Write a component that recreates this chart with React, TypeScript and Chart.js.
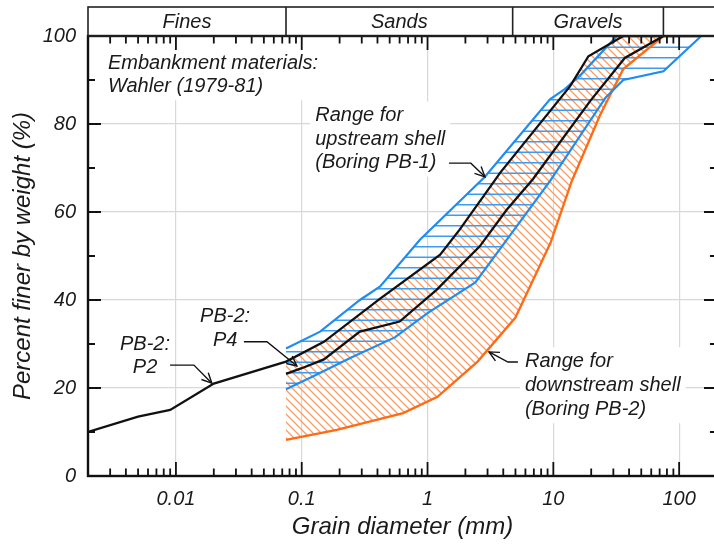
import React, { useEffect, useRef } from 'react';
import { Chart, registerables } from 'chart.js';

Chart.register(...registerables);

const FONT = '"Liberation Sans", Arial, Helvetica, sans-serif';

// Grain size (mm) and percent finer by weight (%)
const p2Size = [0.002, 0.005, 0.009, 0.02, 0.075, 0.15, 0.42, 1.26, 1.8, 3.8, 13.6, 19, 36];
const p2Finer = [10, 13.5, 15, 21, 26, 30.5, 40.3, 50.3, 56, 69, 88.6, 95.4, 100];

const p4Size = [0.075, 0.1, 0.15, 0.29, 0.6, 1.18, 2.6, 4.26, 6.9, 19.6, 37, 75];
const p4Finer = [23.2, 24.5, 26.5, 32.8, 35.1, 42.3, 52.2, 60.5, 67.5, 85.2, 95, 100];

// Upstream shell (Boring PB-1) range
const upFineSize = [0.075, 0.14, 0.29, 0.42, 0.87, 2.86, 9.4, 12.4, 16.3, 32];
const upFineFiner = [29, 32.8, 40, 43.1, 53.7, 68, 85.6, 88, 91, 100];
const upBoundSize = [0.075, 0.14, 0.29, 0.42, 0.87, 2.86, 9.4, 12.4, 16.3, 32, 150];
const upBoundFiner = [29, 32.8, 40, 43.1, 53.7, 68, 85.6, 88, 91, 100, 100];
const upCoarseSize = [0.075, 0.12, 0.25, 0.55, 1.0, 2.4, 9.4, 26, 36, 75, 150];
const upCoarseFiner = [19.7, 22.5, 27, 31.5, 37, 44, 67, 86, 90, 92, 100];

// Downstream shell (Boring PB-2) range
const downCoarseSize = [0.075, 0.19, 0.64, 1.2, 2.5, 5, 9.5, 14, 23.5, 36, 75];
const downCoarseFiner = [8.2, 10.5, 14.3, 18, 26, 36, 53, 67, 82, 92.5, 100];
const downBoundSize = [0.075, 0.15, 0.42, 1.26, 1.8, 3.8, 13.6, 19, 36, 75];
const downBoundFiner = [26, 30.5, 40.3, 50.3, 56, 69, 88.6, 95.4, 100, 100];

// Axes
const xMin = 0.002;
const xMax = 200;
const xDecades = [0.01, 0.1, 1, 10, 100];
const yTicks = [0, 20, 40, 60, 80, 100];

// Soil class header
const classNames = ['Fines', 'Sands', 'Gravels'];
const classBounds = [0.075, 4.75, 75];

// Annotations (anchor in data units: mm, %)
const notes = [
  { lines: ['Embankment materials:', 'Wahler (1979-81)'], x: 0.00288, y: 93.8, align: 'left', lh: 23 },
  { lines: ['Range for', 'upstream shell', '(Boring PB-1)'], x: 0.128, y: 81.9, align: 'left', lh: 23.5 },
  { lines: ['PB-2:', 'P2'], x: 0.00568, y: 29.8, align: 'center', lh: 23 },
  { lines: ['PB-2:', 'P4'], x: 0.0246, y: 36.2, align: 'center', lh: 24 },
  { lines: ['Range for', 'downstream shell', '(Boring PB-2)'], x: 5.95, y: 26.1, align: 'left', lh: 24 },
];
const arrows = [
  [[1.48, 71.1], [2.21, 71.1], [2.86, 68.0]],
  [[0.00898, 25.2], [0.0139, 25.2], [0.0193, 21.1]],
  [[0.0347, 30.5], [0.0529, 30.5], [0.0916, 25.0]],
  [[5.23, 25.9], [4.36, 25.9], [3.08, 28.2]],
];

const mk = (size: number[], finer: number[]) => size.map((x, i) => ({ x, y: finer[i] }));
const isDecade = (v: number) => Math.abs(Math.log10(v) - Math.round(Math.log10(v))) < 1e-6;

function noteRect(chart: any, n: any) {
  const { ctx } = chart;
  const px = chart.scales.x.getPixelForValue(n.x);
  const py = chart.scales.y.getPixelForValue(n.y);
  const w = Math.max(...n.lines.map((l: string) => ctx.measureText(l).width));
  const left = n.align === 'left' ? px : px - w / 2;
  return { px, py, x: left - 5, y: py - 14, w: w + 10, h: (n.lines.length - 1) * n.lh + 28 };
}

const overlay = {
  id: 'overlay',
  beforeDatasetsDraw(chart: any) {
    const { ctx } = chart;
    ctx.save();
    ctx.font = `italic 20px ${FONT}`;
    ctx.fillStyle = '#ffffff';
    for (const n of notes) {
      const r = noteRect(chart, n);
      ctx.fillRect(r.x, r.y, r.w, r.h);
    }
    ctx.restore();
  },
  afterDatasetsDraw(chart: any) {
    const { ctx, chartArea } = chart;
    const { left, right, top, bottom } = chartArea;
    const xs = chart.scales.x;
    const ys = chart.scales.y;
    ctx.save();
    // inward ticks
    ctx.strokeStyle = '#111';
    ctx.lineWidth = 1.8;
    ctx.beginPath();
    for (let e = -3; e <= 2; e++) {
      for (let m = 1; m <= 9; m++) {
        const v = m * Math.pow(10, e);
        if (v < xMin * 0.999 || v > xMax * 1.001) continue;
        const px = xs.getPixelForValue(v);
        const len = m === 1 ? 14 : 7.5;
        ctx.moveTo(px, bottom); ctx.lineTo(px, bottom - len);
        ctx.moveTo(px, top); ctx.lineTo(px, top + len);
      }
    }
    for (let i = 0; i < yTicks.length; i++) {
      const v = yTicks[i];
      const py = ys.getPixelForValue(v);
      ctx.moveTo(left, py); ctx.lineTo(left + 13, py);
      ctx.moveTo(right, py); ctx.lineTo(right - 13, py);
      if (i < yTicks.length - 1) {
        const pm = ys.getPixelForValue((v + yTicks[i + 1]) / 2);
        ctx.moveTo(left, pm); ctx.lineTo(left + 7, pm);
        ctx.moveTo(right, pm); ctx.lineTo(right - 7, pm);
      }
    }
    ctx.stroke();
    // frame
    ctx.lineWidth = 2.4;
    ctx.strokeRect(left, top, right - left, bottom - top);
    // header
    const hTop = top - 29;
    ctx.lineWidth = 1.6;
    ctx.strokeStyle = '#222';
    ctx.strokeRect(left, hTop, right - left, top - hTop);
    ctx.beginPath();
    const edges = [left];
    for (const b of classBounds) {
      const px = xs.getPixelForValue(b);
      edges.push(px);
      ctx.moveTo(px, hTop); ctx.lineTo(px, top);
    }
    ctx.stroke();
    ctx.fillStyle = '#1a1a1a';
    ctx.font = `italic 20px ${FONT}`;
    ctx.textAlign = 'center';
    ctx.textBaseline = 'middle';
    classNames.forEach((name, i) => {
      ctx.fillText(name, (edges[i] + edges[i + 1]) / 2, (hTop + top) / 2 + 1);
    });
    // notes
    for (const n of notes) {
      const r = noteRect(chart, n);
      ctx.textAlign = n.align;
      n.lines.forEach((l: string, i: number) => ctx.fillText(l, r.px, r.py + i * n.lh));
    }
    // arrows
    ctx.strokeStyle = '#111';
    ctx.lineWidth = 1.4;
    for (const a of arrows) {
      const pts = a.map(([x, y]) => [xs.getPixelForValue(x), ys.getPixelForValue(y)]);
      ctx.beginPath();
      ctx.moveTo(pts[0][0], pts[0][1]);
      for (let i = 1; i < pts.length; i++) ctx.lineTo(pts[i][0], pts[i][1]);
      ctx.stroke();
      const [tx, ty] = pts[pts.length - 1];
      const [sx, sy] = pts[pts.length - 2];
      const ang = Math.atan2(ty - sy, tx - sx);
      ctx.beginPath();
      ctx.moveTo(tx - 11 * Math.cos(ang - 0.45), ty - 11 * Math.sin(ang - 0.45));
      ctx.lineTo(tx, ty);
      ctx.lineTo(tx - 11 * Math.cos(ang + 0.45), ty - 11 * Math.sin(ang + 0.45));
      ctx.stroke();
    }
    ctx.restore();
  },
};

export default function App() {
  const ref = useRef<HTMLCanvasElement>(null);
  useEffect(() => {
    const canvas = ref.current!;
    const ctx = canvas.getContext('2d')!;

    const hTile = document.createElement('canvas');
    hTile.width = 8; hTile.height = 21;
    const h = hTile.getContext('2d')!;
    h.strokeStyle = '#3d9bf2'; h.lineWidth = 1.5;
    h.beginPath(); h.moveTo(0, 5.25); h.lineTo(8, 5.25); h.moveTo(0, 15.75); h.lineTo(8, 15.75); h.stroke();
    const blueHatch = ctx.createPattern(hTile, 'repeat');

    const s = 8;
    const dTile = document.createElement('canvas');
    dTile.width = s; dTile.height = s;
    const d = dTile.getContext('2d')!;
    d.strokeStyle = '#ff9b61'; d.lineWidth = 1.3;
    d.beginPath();
    for (const k of [-1, 0, 1]) { d.moveTo(k * s - 1, -1); d.lineTo(k * s + s + 1, s + 1); }
    d.stroke();
    const orangeHatch = ctx.createPattern(dTile, 'repeat');

    const base = { pointRadius: 0, pointHoverRadius: 0, tension: 0, fill: false };
    const tickFont = { family: FONT, size: 20, style: 'italic' as const };
    const titleFont = { family: FONT, size: 24, style: 'italic' as const };

    const chart = new Chart(canvas, {
      type: 'line',
      data: {
        datasets: [
          { ...base, label: 'PB-2: P2', data: mk(p2Size, p2Finer), borderColor: '#111', borderWidth: 2.3 },
          { ...base, label: 'PB-2: P4', data: mk(p4Size, p4Finer), borderColor: '#111', borderWidth: 2.3 },
          { ...base, label: 'Upstream fine limit', data: mk(upFineSize, upFineFiner), borderColor: '#1f8cf2', borderWidth: 2.2 },
          { ...base, label: 'Upstream coarse limit', data: mk(upCoarseSize, upCoarseFiner), borderColor: '#1f8cf2', borderWidth: 2.2, fill: '+1', backgroundColor: blueHatch },
          { ...base, label: 'Upstream bound', data: mk(upBoundSize, upBoundFiner), borderColor: 'rgba(0,0,0,0)', borderWidth: 0 },
          { ...base, label: 'Downstream coarse limit', data: mk(downCoarseSize, downCoarseFiner), borderColor: '#ff6a13', borderWidth: 2.3, fill: '+1', backgroundColor: orangeHatch },
          { ...base, label: 'Downstream bound', data: mk(downBoundSize, downBoundFiner), borderColor: 'rgba(0,0,0,0)', borderWidth: 0 },
        ] as any,
      },
      options: {
        animation: false,
        responsive: false,
        devicePixelRatio: 1,
        layout: { padding: { top: 36, right: 3, left: 0, bottom: 0 } },
        plugins: {
          legend: { display: false },
          tooltip: { enabled: false },
          filler: { drawTime: 'beforeDatasetsDraw' },
        } as any,
        scales: {
          x: {
            type: 'logarithmic',
            min: xMin,
            max: xMax,
            bounds: 'data',
            afterFit: (sc: any) => { sc.height = 68; },
            afterBuildTicks: (sc: any) => { sc.ticks = xDecades.map((v) => ({ value: v, major: true })); },
            border: { display: false },
            grid: { drawTicks: false, color: '#d8d8d8', lineWidth: 1.2 },
            ticks: {
              autoSkip: false, maxRotation: 0, padding: 11, font: tickFont, color: '#1a1a1a',
              callback: (v: any) => (isDecade(Number(v)) ? String(Number(Number(v).toPrecision(6))) : ''),
            },
            title: { display: true, text: 'Grain diameter (mm)', font: titleFont, color: '#1a1a1a', padding: { top: 0, bottom: 2.5 } },
          },
          y: {
            min: 0,
            max: 100,
            afterFit: (sc: any) => { sc.width = 88; },
            afterBuildTicks: (sc: any) => { sc.ticks = yTicks.map((v) => ({ value: v })); },
            border: { display: false },
            grid: { drawTicks: false, color: '#d8d8d8', lineWidth: 1.2 },
            ticks: { padding: 12, font: tickFont, color: '#1a1a1a' },
            title: { display: true, text: 'Percent finer by weight (%)', font: titleFont, color: '#1a1a1a', padding: { top: 8.5, bottom: 0 } },
          },
        },
      } as any,
      plugins: [overlay as any],
    });
    return () => chart.destroy();
  }, []);

  return (
    <div style={{ position: 'fixed', left: 0, top: 0, width: 714, height: 544, overflow: 'hidden', background: '#fff' }}>
      <canvas ref={ref} width={720} height={544} style={{ width: 720, height: 544, display: 'block' }} />
    </div>
  );
}
